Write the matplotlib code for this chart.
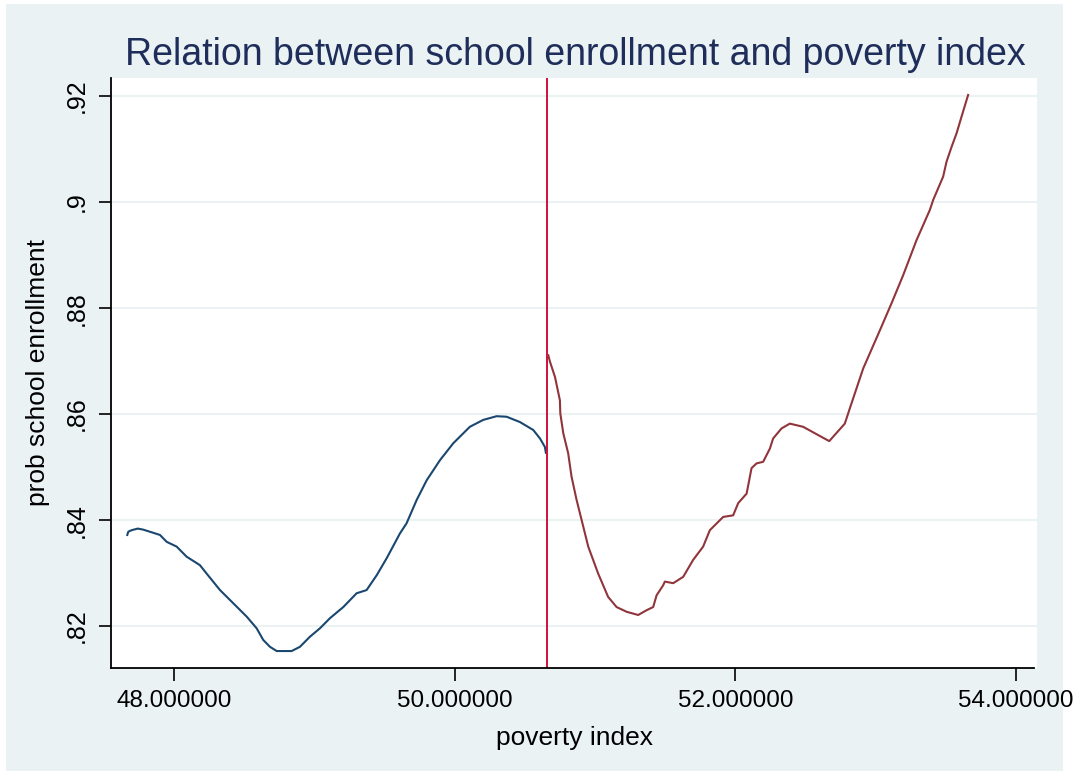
import matplotlib
matplotlib.use("Agg")
import matplotlib.pyplot as plt
from matplotlib.patches import Rectangle

plt.rcParams['font.family'] = ['Liberation Sans', 'DejaVu Sans']

# left of cutoff
x_left = [47.665, 47.672, 47.696, 47.740, 47.779, 47.827, 47.898, 47.946, 48.017, 48.088,
          48.183, 48.231, 48.326, 48.421, 48.516, 48.587, 48.634, 48.682, 48.730, 48.837,
          48.896, 48.967, 49.039, 49.110, 49.205, 49.300, 49.371, 49.443, 49.514, 49.609,
          49.656, 49.728, 49.799, 49.894, 49.989, 50.107, 50.202, 50.298, 50.369, 50.464,
          50.559, 50.607, 50.642, 50.649]
y_left = [0.8372, 0.8378, 0.8381, 0.8384, 0.8382, 0.8378, 0.8372, 0.8359, 0.8350, 0.8331,
          0.8315, 0.8299, 0.8268, 0.8243, 0.8218, 0.8196, 0.8174, 0.8161, 0.8153, 0.8153,
          0.8161, 0.8180, 0.8196, 0.8215, 0.8236, 0.8262, 0.8268, 0.8296, 0.8328, 0.8375,
          0.8394, 0.8438, 0.8475, 0.8513, 0.8545, 0.8576, 0.8589, 0.8596, 0.8595, 0.8585,
          0.8570, 0.8554, 0.8538, 0.8527]

# right of cutoff
x_right = [50.666, 50.678, 50.714, 50.749, 50.752, 50.773, 50.808, 50.832, 50.868, 50.904,
           50.951, 51.022, 51.093, 51.153, 51.225, 51.307, 51.367, 51.414, 51.438, 51.485,
           51.497, 51.557, 51.628, 51.699, 51.770, 51.818, 51.913, 51.984, 52.020, 52.080,
           52.115, 52.151, 52.198, 52.246, 52.269, 52.329, 52.388, 52.483, 52.579, 52.669,
           52.780, 52.816, 52.911, 53.030, 53.113, 53.196, 53.291, 53.386, 53.410, 53.481,
           53.505, 53.541, 53.577, 53.612, 53.659]
y_right = [0.8711, 0.8699, 0.8670, 0.8626, 0.8601, 0.8564, 0.8526, 0.8482, 0.8438, 0.8400,
           0.8350, 0.8299, 0.8255, 0.8236, 0.8227, 0.8221, 0.8230, 0.8236, 0.8258, 0.8277,
           0.8284, 0.8281, 0.8293, 0.8325, 0.8350, 0.8381, 0.8406, 0.8409, 0.8432, 0.8450,
           0.8498, 0.8507, 0.8510, 0.8535, 0.8554, 0.8573, 0.8582, 0.8576, 0.8562, 0.8549,
           0.8582, 0.8611, 0.8686, 0.8758, 0.8809, 0.8862, 0.8928, 0.8985, 0.9004, 0.9048,
           0.9076, 0.9104, 0.9130, 0.9161, 0.9202]

cutoff = 50.655
x_ticks = [48, 50, 52, 54]
x_ticklabels = ["48.000000", "50.000000", "52.000000", "54.000000"]
y_ticks = [0.82, 0.84, 0.86, 0.88, 0.90, 0.92]
y_ticklabels = [".82", ".84", ".86", ".88", ".9", ".92"]

W, H = 1087, 773
fig = plt.figure(figsize=(W / 100, H / 100), dpi=100, facecolor='white')
fig.patches.append(Rectangle((6 / W, 1 - 771 / H), (1063 - 6) / W, (771 - 4) / H,
                             transform=fig.transFigure, facecolor='#eaf2f3',
                             edgecolor='none', zorder=-10))

ax = fig.add_axes([111 / W, 1 - 668 / H, (1037 - 111) / W, (668 - 78) / H])
ax.set_facecolor('white')

ax.plot(x_left, y_left, color='#1a476f', lw=1.5)
ax.plot(x_right, y_right, color='#90353b', lw=1.5)
ax.axvline(cutoff, color='#d0103a', lw=1.4)

ax.set_xlim(47.549, 54.15)
ax.set_ylim(0.8121, 0.9234)

ax.set_xticks(x_ticks)
ax.set_xticklabels(x_ticklabels, fontsize=17.5)
ax.set_yticks(y_ticks)
ax.set_yticklabels(y_ticklabels, fontsize=18, rotation=90, va='center')
ax.tick_params(length=9, width=1.2, pad=7, colors='black')
ax.grid(axis='y', color='#eaf2f3', lw=1.5)
ax.set_axisbelow(True)

for side in ['top', 'right']:
    ax.spines[side].set_visible(False)
ax.spines['bottom'].set_bounds(47.549, 54.13)
for side in ['left', 'bottom']:
    ax.spines[side].set_linewidth(1.3)

ax.set_xlabel('poverty index', fontsize=19)
ax.xaxis.set_label_coords(0.5, -0.098)
ax.set_ylabel('prob school enrollment', fontsize=19)
ax.yaxis.set_label_coords(-0.066, 0.5)

fig.text(575 / W, 1 - 55 / H, 'Relation between school enrollment and poverty index',
         fontsize=27, color='#1e2d5a', ha='center', va='center')

fig.savefig('out.png', dpi=100, facecolor=fig.get_facecolor())
